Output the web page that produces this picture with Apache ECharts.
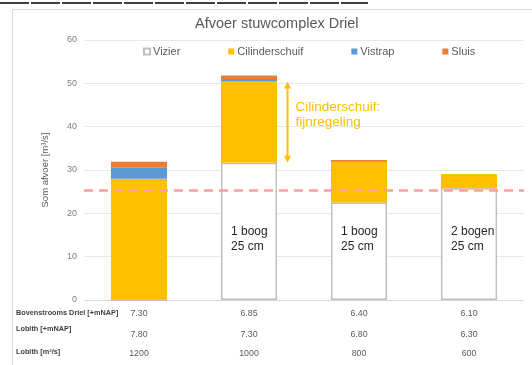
<!DOCTYPE html>
<html>
<head>
<meta charset="utf-8">
<script src="https://cdn.jsdelivr.net/npm/echarts@6/dist/echarts.min.js"></script>
<style>
  html, body { margin: 0; padding: 0; background: #fff; }
  #chart { width: 532px; height: 365px; }
</style>
</head>
<body>
<div id="chart"></div>
<script>
// Water levels / discharges per scenario (table under the chart)
const bovenstrooms = ['7.30', '6.85', '6.40', '6.10'];
const lobithLevel = ['7.80', '7.30', '6.80', '6.30'];
const lobithDischarge = ['1200', '1000', '800', '600'];

// Discharge per structure [m3/s]
const vizier = [0, 31.7, 22.5, 25.8];
const cilinderschuif = [28.0, 18.7, 9.4, 3.3];
const vistrap = [2.5, 0.6, 0, 0];
const sluis = [1.4, 0.8, 0.4, 0];

const vizierLabels = ['', '1 boog\n25 cm', '1 boog\n25 cm', '2 bogen\n25 cm'];
const referenceLevel = 25.4;

const rowLabels = ['Bovenstrooms Driel [+mNAP]', 'Lobith [+mNAP]', 'Lobith [m³/s]'];
const rowLabelY = [313, 329, 352];

const FONT = '"Liberation Sans", Arial, sans-serif';
const TEXT = '#595959';

const chart = echarts.init(document.getElementById('chart'), null, { renderer: 'canvas' });

const tableAxis = (data, offset, showLine) => ({
  type: 'category',
  data: data,
  gridIndex: 0,
  position: 'bottom',
  offset: offset,
  axisLine: { show: showLine, lineStyle: { color: '#D9D9D9', width: 1 } },
  axisTick: { show: false },
  axisLabel: { margin: 9, fontSize: 8.8, color: TEXT, fontFamily: FONT },
  splitLine: { show: false }
});

const barBase = {
  type: 'bar',
  stack: 'total',
  barWidth: '51%',
  xAxisIndex: 0,
  yAxisIndex: 0
};

const option = {
  backgroundColor: '#fff',
  animation: false,
  textStyle: { fontFamily: FONT },
  title: {
    text: 'Afvoer stuwcomplex Driel',
    left: 195,
    top: 16,
    padding: 0,
    textStyle: { fontSize: 14.5, fontWeight: 'normal', color: TEXT, fontFamily: FONT }
  },
  legend: {
    left: 143,
    top: 46,
    padding: 0,
    icon: 'rect',
    itemWidth: 6,
    itemHeight: 6,
    itemGap: 48,
    textStyle: { fontSize: 11, color: TEXT, fontFamily: FONT, padding: [0, 0, 0, -2] },
    data: ['Vizier', 'Cilinderschuif', 'Vistrap', 'Sluis']
  },
  grid: { left: 84, right: 8, top: 40, bottom: 65, containLabel: false },
  xAxis: [
    tableAxis(bovenstrooms, 0, true),
    tableAxis(lobithLevel, 21, false),
    tableAxis(lobithDischarge, 40, false)
  ],
  yAxis: {
    type: 'value',
    min: 0,
    max: 60,
    interval: 10,
    name: 'Som afvoer [m³/s]',
    nameLocation: 'middle',
    nameGap: 34,
    nameTextStyle: { fontSize: 9.5, color: TEXT, fontFamily: FONT },
    axisLine: { show: false },
    axisTick: { show: false },
    axisLabel: { margin: 7, fontSize: 9, color: '#7F7F7F', fontFamily: FONT },
    splitLine: { lineStyle: { color: '#E8E8E8', width: 1 } }
  },
  series: [
    Object.assign({}, barBase, {
      name: 'Vizier',
      data: vizier,
      itemStyle: { color: '#FFFFFF', borderColor: '#BFBFBF', borderWidth: 1.5 },
      label: {
        show: true,
        position: 'insideBottom',
        distance: 46,
        align: 'left',
        offset: [-18, 0],
        fontSize: 12,
        lineHeight: 15,
        color: '#262626',
        fontFamily: FONT,
        formatter: p => vizierLabels[p.dataIndex]
      }
    }),
    Object.assign({}, barBase, {
      name: 'Cilinderschuif',
      data: cilinderschuif,
      itemStyle: { color: '#FFC000' }
    }),
    Object.assign({}, barBase, {
      name: 'Vistrap',
      data: vistrap,
      itemStyle: { color: '#5B9BD5' }
    }),
    Object.assign({}, barBase, {
      name: 'Sluis',
      data: sluis,
      itemStyle: { color: '#ED7D31' },
      markLine: {
        silent: true,
        symbol: 'none',
        label: { show: false },
        lineStyle: { color: '#FF9E9E', width: 2.5, type: [9, 6] },
        data: [{ yAxis: referenceLevel }]
      }
    })
  ]
};

chart.setOption(option);

// Annotation arrow next to the second column: spans the fine-regulation range
const toPx = (cat, val) => chart.convertToPixel({ xAxisIndex: 0, yAxisIndex: 0 }, [cat, val]);
const [c1x, yTop] = toPx(1, vizier[1] + cilinderschuif[1]);
const [, yBot] = toPx(1, vizier[1]);
const [c2x] = toPx(2, 0);
const ax = c1x + (c2x - c1x) * 0.35;
const head = 7, half = 3.5;
const ORANGE = '#FFC000';

const graphics = [
  // outer frame of the chart area
  { type: 'rect', shape: { x: 12.5, y: 9.5, width: 540, height: 370 },
    style: { fill: 'none', stroke: '#D9D9D9', lineWidth: 1 }, silent: true },
  // dark rule along the top
  { type: 'line', shape: { x1: 0, y1: 3, x2: 368, y2: 3 },
    style: { stroke: '#404040', lineWidth: 2, lineDash: [29, 2] }, silent: true },
  // arrow
  { type: 'line', shape: { x1: ax, y1: yTop + head - 1, x2: ax, y2: yBot - head + 1 },
    style: { stroke: ORANGE, lineWidth: 2 }, silent: true },
  { type: 'polygon', shape: { points: [[ax, yTop], [ax - half, yTop + head], [ax + half, yTop + head]] },
    style: { fill: ORANGE }, silent: true },
  { type: 'polygon', shape: { points: [[ax, yBot], [ax - half, yBot - head], [ax + half, yBot - head]] },
    style: { fill: ORANGE }, silent: true },
  { type: 'text', x: ax + 8, y: yTop + 18, silent: true,
    style: { text: 'Cilinderschuif:\nfijnregeling', fill: ORANGE, fontSize: 13.5,
             fontFamily: FONT, lineHeight: 15, verticalAlign: 'top', align: 'left' } }
];

// row captions of the table
rowLabels.forEach((t, i) => {
  graphics.push({
    type: 'text', x: 16, y: rowLabelY[i], silent: true,
    style: { text: t, fill: '#404040', fontSize: 7.3, fontWeight: 'bold',
             fontFamily: FONT, verticalAlign: 'middle', align: 'left' }
  });
});

chart.setOption({ graphic: graphics });
</script>
</body>
</html>
